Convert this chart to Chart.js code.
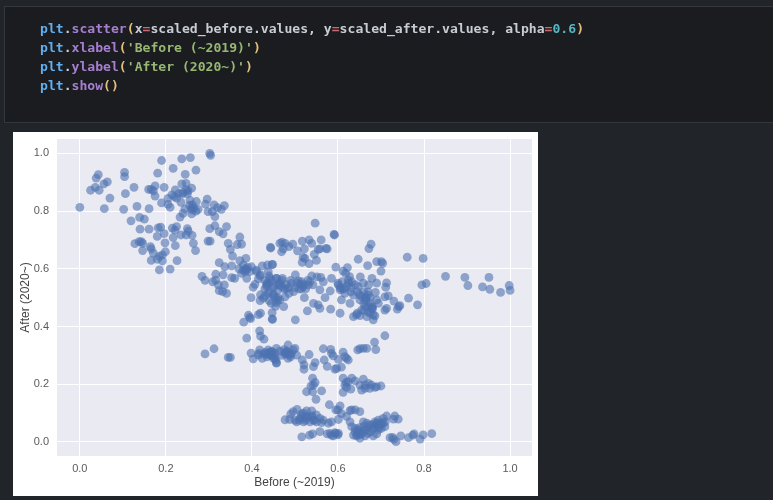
<!DOCTYPE html>
<html>
<head>
<meta charset="utf-8">
<script src="https://cdn.jsdelivr.net/npm/chart.js@4"></script>
<style>
  html, body { margin: 0; padding: 0; background: #212429; width: 773px; height: 500px; overflow: hidden; }
  #cell { position: absolute; left: 4px; top: 6px; width: 780px; height: 115px; background: #1a1c20; border: 1px solid #34373c; }
  #code { position: absolute; left: 40px; top: 19px; margin: 0; font: bold 13.1px/19px "DejaVu Sans Mono", monospace; color: #c8ccd4; filter: blur(0.3px); }
  .o { color: #61afef; } .f { color: #a77fd0; } .p { color: #e5c07b; } .e { color: #d06a72; } .s { color: #98b872; } .n { color: #56b6c2; }
  #plot { position: absolute; left: 13px; top: 132px; width: 525px; height: 364px; background: #fff; }
  #scatterChart { filter: blur(0.4px); }
</style>
</head>
<body>
<div id="cell"></div>
<pre id="code"><span class="o">plt</span>.<span class="f">scatter</span><span class="p">(</span>x<span class="e">=</span>scaled_before.values, y<span class="e">=</span>scaled_after.values, alpha<span class="e">=</span><span class="n">0.6</span><span class="p">)</span>
<span class="o">plt</span>.<span class="f">xlabel</span><span class="p">(</span><span class="s">'Before (~2019)'</span><span class="p">)</span>
<span class="o">plt</span>.<span class="f">ylabel</span><span class="p">(</span><span class="s">'After (2020~)'</span><span class="p">)</span>
<span class="o">plt</span>.<span class="f">show</span><span class="p">()</span></pre>
<div id="plot"><canvas id="scatterChart" width="525" height="364"></canvas></div>
<script>
// values
const scaledBefore = [
  0,.025,.036,.045,.038,.043,.056,.064,.07,.057,
  .104,.104,.106,.102,.126,.133,.119,.139,.15,.161,
  .16,.166,.175,.171,.175,.196,.181,.19,.217,.237,
  .257,.302,.304,.27,.245,.237,.247,.222,.214,.205,
  .19,.205,.21,.239,.252,.26,.248,.256,.262,.271,
  .26,.244,.275,.24,.233,.26,.296,.292,.312,.32,
  .336,.329,.298,.308,.314,.302,.314,.324,.333,.341,
  .298,.303,.14,.161,.182,.188,.18,.196,.215,.225,
  .221,.217,.235,.25,.252,.247,.261,.222,.198,.264,
  .269,.128,.138,.143,.146,.146,.164,.166,.171,.166,
  .18,.185,.192,.199,.192,.185,.21,.226,.345,.35,
  .355,.372,.366,.376,.324,.337,.353,.372,.386,.38,
  .384,.376,.388,.388,.353,.36,.333,.316,.284,.291,
  .309,.316,.322,.336,.324,.332,.341,.443,.424,.436,
  .447,.399,.411,.419,.438,.442,.457,.407,.403,.434,
  .438,.45,.426,.419,.398,.465,.381,.392,.395,.397,
  .415,.42,.447,.447,.418,.42,.428,.388,.312,.291,
  .345,.35,.398,.403,.418,.416,.415,.424,.428,.438,
  .434,.446,.45,.457,.453,.457,.547,.591,.592,.677,
  .672,.647,.669,.69,.701,.704,.7,.595,.622,.612,
  .618,.627,.652,.679,.761,.798,.85,.895,.902,.951,
  .936,.953,.978,.998,1,.795,.805,.713,.711,.764,
  .785,.744,.741,.73,.717,.709,.713,.709,.738,.687,
  .69,.694,.448,.47,.477,.469,.473,.486,.495,.506,
  .517,.533,.539,.561,.522,.554,.558,.572,.575,.545,
  .519,.523,.517,.533,.55,.444,.501,.539,.551,.56,
  .585,.566,.471,.457,.464,.461,.469,.492,.508,.512,
  .519,.531,.542,.558,.582,.57,.522,.497,.486,.477,
  .474,.465,.457,.543,.554,.558,.529,.583,.605,.608,
  .601,.605,.616,.624,.632,.636,.628,.647,.659,.671,
  .69,.651,.663,.67,.674,.663,.655,.671,.682,.643,
  .636,.667,.678,.448,.501,.645,.651,.674,.682,.686,
  .709,.685,.688,.667,.659,.651,.646,.566,.583,.585,
  .589,.612,.616,.62,.624,.601,.568,.608,.597,.593,
  .575,.533,.547,.543,.521,.521,.517,.484,.477,.481,
  .488,.496,.5,.492,.504,.484,.477,.446,.453,.442,
  .45,.457,.456,.541,.547,.543,.537,.527,.541,.562,
  .549,.612,.624,.616,.62,.632,.64,.659,.651,.663,
  .671,.678,.69,.7,.655,.612,.63,.674,.686,.619,
  .663,.58,.605,.595,.6,.632,.64,.651,.628,.505,
  .496,.49,.527,.539,.515,.527,.539,.55,.558,.566,
  .477,.488,.5,.512,.523,.543,.504,.562,.578,.585,
  .601,.608,.62,.628,.632,.647,.659,.667,.674,.686,
  .694,.705,.713,.732,.74,.729,.698,.69,.701,.709,
  .694,.682,.64,.647,.636,.643,.651,.663,.655,.682,
  .69,.516,.534,.541,.558,.575,.585,.593,.601,.589,
  .582,.721,.727,.73,.735,.746,.764,.777,.774,.791,
  .798,.818,.48,.515,.63,.66,.68,.45,.44,.61,
  .43,.435,.44,.445,.45,.46,.465,.47,.475,.48,
  .485,.49,.5,.505,.51,.515,.52,.525,.53,.535,
  .6,.605,.61,.615,.62,.625,.63,.64,.645,.65,
  .655,.66,.665,.67,.675,.68,.66,.665,.67,.68,
  .43,.435,.44,.445,.465,.47,.475,.48,.485,.49,
  .51,.515,.52,.525,.53,.535,.54,.545,.55,.52,
  .65,.66,.665,.67,.675,.68,.685,.69,.695,.7,
  .705,.71,.645,.655,.66,.67,.64,.65,.6,.595,
  .22,.225,.23,.24,.25,.255,.265,.26,.27,.235,
  .385,.39,.38,.395,.37,.41,.42,.415,.43,.44,
  .45,.455,.46,.42,.43,.44,.445,.455,.435,.46
];
const scaledAfter = [
  .813,.872,.882,.872,.914,.926,.894,.901,.845,.808,
  .934,.919,.86,.806,.882,.816,.766,.778,.772,.808,
  .875,.875,.887,.87,.852,.882,.931,.975,.948,.981,
  .985,1,.993,.942,.927,.894,.896,.873,.856,.844,
  .828,.823,.813,.859,.87,.879,.873,.838,.821,.833,
  .804,.807,.806,.792,.779,.79,.841,.824,.821,.812,
  .819,.806,.798,.798,.781,.739,.749,.729,.721,.746,
  .696,.696,.737,.737,.742,.744,.712,.722,.741,.746,
  .734,.708,.717,.739,.73,.717,.716,.68,.69,.688,
  .663,.687,.694,.694,.688,.663,.677,.669,.654,.629,
  .633,.643,.648,.659,.627,.596,.599,.628,.688,.667,
  .644,.71,.684,.685,.621,.607,.61,.628,.636,.613,
  .59,.584,.596,.567,.569,.567,.579,.581,.574,.56,
  .555,.561,.544,.544,.524,.521,.515,.674,.61,.613,
  .614,.607,.59,.575,.59,.567,.567,.546,.536,.54,
  .515,.509,.498,.49,.5,.688,.415,.439,.432,.427,
  .441,.446,.426,.448,.385,.367,.356,.36,.323,.305,
  .293,.293,.308,.288,.319,.307,.301,.29,.305,.319,
  .304,.313,.301,.324,.29,.275,.758,.719,.717,.685,
  .67,.633,.611,.625,.625,.619,.592,.606,.604,.592,
  .584,.573,.572,.567,.64,.636,.574,.57,.542,.57,
  .537,.529,.518,.542,.525,.544,.549,.551,.536,.498,
  .475,.472,.469,.488,.506,.503,.463,.457,.46,.518,
  .492,.48,.615,.692,.688,.659,.669,.677,.685,.662,
  .696,.7,.688,.7,.669,.667,.669,.671,.669,.65,
  .64,.636,.622,.618,.629,.672,.579,.575,.572,.57,
  .567,.555,.567,.567,.552,.544,.538,.55,.558,.547,
  .538,.544,.544,.527,.523,.5,.5,.521,.515,.503,
  .469,.492,.483,.48,.475,.463,.454,.46,.446,.492,
  .544,.527,.515,.561,.555,.509,.48,.538,.55,.544,
  .55,.492,.498,.509,.48,.469,.457,.451,.44,.44,
  .434,.434,.463,.425,.423,.446,.438,.446,.423,.437,
  .368,.346,.32,.324,.324,.323,.319,.323,.321,.307,
  .298,.311,.296,.29,.284,.286,.284,.259,.255,.252,
  .262,.303,.275,.261,.267,.252,.284,.336,.31,.315,
  .301,.319,.324,.307,.301,.29,.305,.313,.307,.301,
  .29,.273,.284,.221,.206,.197,.194,.174,.174,.177,
  .148,.221,.209,.197,.189,.221,.212,.218,.197,.197,
  .203,.197,.192,.194,.18,.172,.183,.186,.189,.206,
  .186,.129,.125,.111,.111,.111,.111,.105,.109,.113,
  .105,.097,.108,.108,.097,.09,.088,.094,.082,.076,
  .077,.078,.076,.082,.082,.076,.07,.067,.065,.07,
  .078,.098,.089,.07,.053,.035,.07,.065,.059,.07,
  .076,.082,.09,.09,.079,.079,.059,.059,.047,.053,
  .042,.047,.047,.042,.024,.021,.013,.021,.03,.021,
  .028,.018,.024,.028,.036,.028,.024,.032,.03,.021,
  .03,.015,.016,.009,.001,.021,.015,.028,.024,.01,
  .025,.029,.53,.53,.535,.52,.465,.54,.55,.53,
  .53,.55,.52,.56,.535,.525,.545,.56,.53,.545,
  .535,.56,.535,.55,.53,.555,.545,.53,.56,.555,
  .55,.535,.555,.53,.54,.55,.52,.545,.52,.51,
  .505,.48,.49,.47,.5,.47,.455,.5,.52,.46,
  .31,.295,.31,.3,.315,.3,.32,.305,.31,.295,
  .075,.09,.07,.075,.085,.07,.09,.075,.07,.1,
  .05,.055,.04,.05,.035,.06,.05,.065,.05,.065,
  .065,.07,.025,.03,.04,.03,.035,.025,.025,.03,
  .85,.845,.86,.865,.86,.82,.81,.81,.8,.83,
  .6,.605,.595,.59,.6,.595,.58,.565,.56,.575,
  .51,.5,.49,.51,.505,.49,.48,.47,.545,.5
];
const tickValues = [0, 0.2, 0.4, 0.6, 0.8, 1.0];

const tickFont = { family: '"Liberation Sans", Arial, sans-serif', size: 11 };
const titleFont = { family: '"Liberation Sans", Arial, sans-serif', size: 12 };

// seaborn style plot background
const plotBackground = {
  id: 'plotBackground',
  beforeDraw(chart) {
    const a = chart.chartArea;
    chart.ctx.fillStyle = '#eaeaf2';
    chart.ctx.fillRect(a.left, a.top, a.width, a.height);
  }
};

function setTicks(scale) {
  scale.ticks = tickValues.map(v => ({ value: v }));
}

const ctx = document.getElementById('scatterChart').getContext('2d');
new Chart(ctx, {
  type: 'scatter',
  data: {
    datasets: [{
      data: scaledBefore.map((x, i) => ({ x: x, y: scaledAfter[i] })),
      backgroundColor: 'rgba(76,114,176,0.6)',
      borderWidth: 0,
      pointRadius: 4.4
    }]
  },
  options: {
    responsive: false,
    animation: false,
    layout: { padding: { top: 7, right: 6, left: 0, bottom: 0 } },
    plugins: { legend: { display: false }, tooltip: { enabled: false } },
    scales: {
      x: {
        type: 'linear',
        min: -0.053,
        max: 1.051,
        afterBuildTicks: setTicks,
        afterFit(scale) { scale.height = 40; scale.paddingLeft = 0; scale.paddingRight = 0; },
        grid: { color: '#ffffff', lineWidth: 1, drawTicks: false },
        border: { display: false },
        ticks: { font: tickFont, color: '#5a5a5a', padding: 6, maxRotation: 0, callback: v => v.toFixed(1) },
        title: { display: true, text: 'Before (~2019)', font: titleFont, color: '#444444', padding: { top: 2, bottom: 6 } }
      },
      y: {
        type: 'linear',
        min: -0.0485,
        max: 1.0495,
        afterBuildTicks: setTicks,
        afterFit(scale) { scale.width = 44; scale.paddingTop = 0; scale.paddingBottom = 0; },
        grid: { color: '#ffffff', lineWidth: 1, drawTicks: false },
        border: { display: false },
        ticks: { font: tickFont, color: '#5a5a5a', padding: 8, callback: v => v.toFixed(1) },
        title: { display: true, text: 'After (2020~)', font: titleFont, color: '#444444', padding: { top: 5, bottom: 0 } }
      }
    }
  },
  plugins: [plotBackground]
});
</script>
</body>
</html>
